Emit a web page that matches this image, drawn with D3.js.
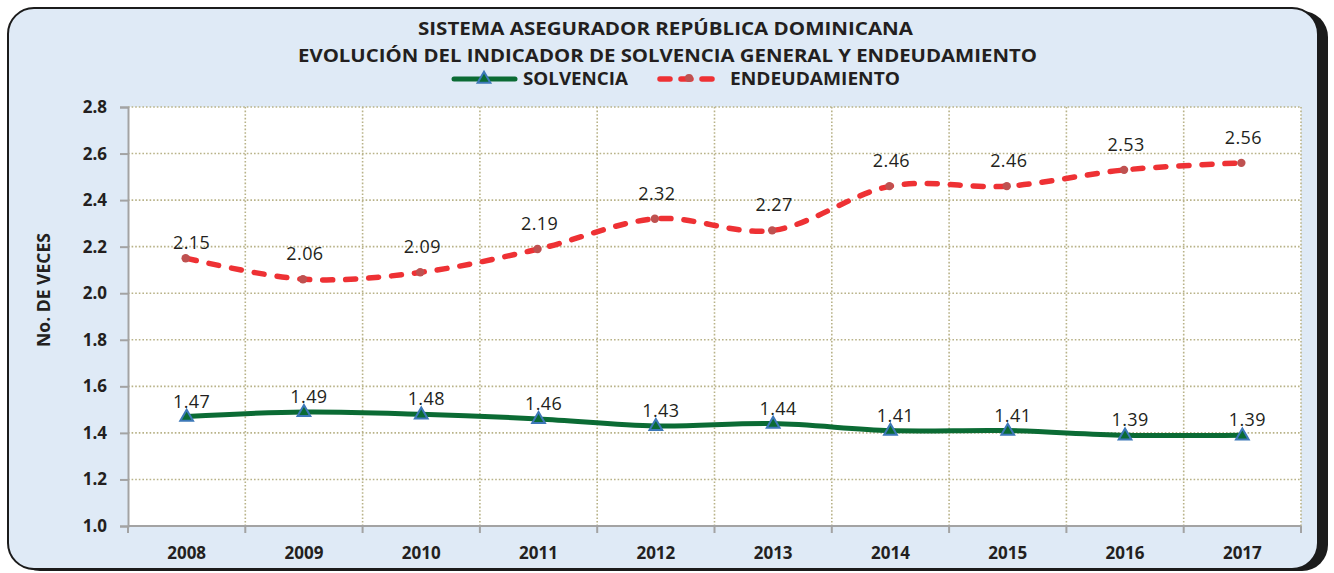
<!DOCTYPE html>
<html>
<head>
<meta charset="utf-8">
<script src="https://cdn.jsdelivr.net/npm/d3@7"></script>
<style>
  html, body { margin: 0; padding: 0; background: #ffffff; }
  svg { display: block; }
  text { font-family: "Open Sans", "Noto Sans", sans-serif; fill: #231f20; }
</style>
</head>
<body>
<script>
// Sistema asegurador: solvencia general y endeudamiento, 2008-2017
const years = ["2008", "2009", "2010", "2011", "2012", "2013", "2014", "2015", "2016", "2017"];
const solvencia = [1.47, 1.49, 1.48, 1.46, 1.43, 1.44, 1.41, 1.41, 1.39, 1.39];
const endeudamiento = [2.15, 2.06, 2.09, 2.19, 2.32, 2.27, 2.46, 2.46, 2.53, 2.56];
const yTicks = [1.0, 1.2, 1.4, 1.6, 1.8, 2.0, 2.2, 2.4, 2.6, 2.8];
const titleLines = ["SISTEMA  ASEGURADOR  REPÚBLICA  DOMINICANA",
                    "EVOLUCIÓN  DEL  INDICADOR  DE  SOLVENCIA  GENERAL  Y  ENDEUDAMIENTO"];
const seriesNames = ["SOLVENCIA", "ENDEUDAMIENTO"];
const yTitle = "No. DE VECES";

const W = 1334, H = 573;
const plot = { left: 128, right: 1301, top: 107, bottom: 526 };

const GREEN = "#0b6b34", TRI_STROKE = "#3d78b8";
const RED = "#ee3134", DOT = "#bf5150";
const GRID = "#b8b288", AXIS = "#a3a3a3";

const svg = d3.select("body").append("svg").attr("width", W).attr("height", H);

// frame with drop shadow
svg.append("rect").attr("x", 14).attr("y", 11).attr("width", 1314).attr("height", 560)
  .attr("rx", 26).attr("fill", "#1b1b1b");
svg.append("rect").attr("x", 8).attr("y", 8).attr("width", 1310).attr("height", 561)
  .attr("rx", 26).attr("fill", "#dfeaf6").attr("stroke", "#1b1b1b").attr("stroke-width", 2);

// plot area
svg.append("rect").attr("x", plot.left).attr("y", plot.top)
  .attr("width", plot.right - plot.left).attr("height", plot.bottom - plot.top)
  .attr("fill", "#ffffff");

const x = d3.scaleBand().domain(years).range([plot.left, plot.right]).paddingInner(0).paddingOuter(0);
const cx = d => x(d) + x.bandwidth() / 2;
const y = d3.scaleLinear().domain([1.0, 2.8]).range([plot.bottom, plot.top]);

// dotted grid
const grid = svg.append("g");
grid.selectAll("line.h").data(yTicks.slice(1)).join("line")
  .attr("x1", plot.left).attr("x2", plot.right)
  .attr("y1", d => y(d)).attr("y2", d => y(d))
  .attr("stroke", GRID).attr("stroke-width", 1.6).attr("stroke-dasharray", "1.6,2");
grid.selectAll("line.v").data(years).join("line")
  .attr("x1", d => x(d) + x.bandwidth()).attr("x2", d => x(d) + x.bandwidth())
  .attr("y1", plot.top).attr("y2", plot.bottom)
  .attr("stroke", GRID).attr("stroke-width", 1.6).attr("stroke-dasharray", "1.6,2");

// y axis
const yAxis = svg.append("g").attr("transform", `translate(${plot.left},0)`)
  .call(d3.axisLeft(y).tickValues(yTicks).tickFormat(d3.format(".1f")).tickSize(8).tickPadding(13));
yAxis.select(".domain").attr("stroke", AXIS).attr("stroke-width", 2);
yAxis.selectAll(".tick line").attr("stroke", AXIS).attr("stroke-width", 2);
yAxis.selectAll(".tick text").style("font-family", "'Open Sans', sans-serif")
  .style("font-size", "17px").style("font-weight", "700").attr("fill", "#231f20");

// x axis: labels centred in each band, ticks at band boundaries
const xAxis = svg.append("g").attr("transform", `translate(0,${plot.bottom})`)
  .call(d3.axisBottom(x).tickSize(0).tickPadding(21));
xAxis.select(".domain").remove();
xAxis.selectAll(".tick text").style("font-family", "'Open Sans', sans-serif")
  .style("font-size", "17px").style("font-weight", "700").attr("fill", "#231f20");
svg.append("line").attr("x1", plot.left).attr("x2", plot.right)
  .attr("y1", plot.bottom).attr("y2", plot.bottom).attr("stroke", AXIS).attr("stroke-width", 2);
svg.append("g").selectAll("line").data([years[0]].concat(years)).join("line")
  .attr("x1", (d, i) => i === 0 ? plot.left : x(d) + x.bandwidth())
  .attr("x2", (d, i) => i === 0 ? plot.left : x(d) + x.bandwidth())
  .attr("y1", plot.bottom).attr("y2", plot.bottom + 7)
  .attr("stroke", AXIS).attr("stroke-width", 2);

// axis title
svg.append("text").attr("transform", "translate(50,290) rotate(-90)")
  .attr("text-anchor", "middle").attr("textLength", 114).attr("lengthAdjust", "spacingAndGlyphs")
  .style("font-size", "18px").style("font-weight", "700")
  .text(yTitle);

// title
svg.append("text").attr("x", 665.5).attr("y", 35).attr("text-anchor", "middle")
  .attr("textLength", 495).attr("lengthAdjust", "spacingAndGlyphs")
  .style("font-size", "18.5px").style("font-weight", "700").text(titleLines[0]);
svg.append("text").attr("x", 667.5).attr("y", 62).attr("text-anchor", "middle")
  .attr("textLength", 739).attr("lengthAdjust", "spacingAndGlyphs")
  .style("font-size", "18.5px").style("font-weight", "700").text(titleLines[1]);

// smoothed lines
const curve = d3.curveCardinal.tension(0);
const lineGen = d3.line().x((d, i) => cx(years[i])).y(d => y(d)).curve(curve);

svg.append("path").datum(endeudamiento).attr("d", lineGen)
  .attr("fill", "none").attr("stroke", RED).attr("stroke-width", 5.5)
  .attr("stroke-linecap", "round").attr("stroke-dasharray", "10,13");
svg.append("path").datum(solvencia).attr("d", lineGen)
  .attr("fill", "none").attr("stroke", GREEN).attr("stroke-width", 5)
  .attr("stroke-linecap", "round");

// markers
const tri = d3.symbol().type(d3.symbolTriangle).size(70);
svg.append("g").selectAll("path").data(solvencia).join("path")
  .attr("d", tri)
  .attr("transform", (d, i) => `translate(${cx(years[i])},${y(d) + 0.5})`)
  .attr("fill", GREEN).attr("stroke", TRI_STROKE).attr("stroke-width", 2);
svg.append("g").selectAll("circle").data(endeudamiento).join("circle")
  .attr("cx", (d, i) => cx(years[i]) - 1).attr("cy", d => y(d))
  .attr("r", 4.2).attr("fill", DOT);

// value labels
const fmt = d3.format(".2f");
svg.append("g").selectAll("text").data(solvencia).join("text")
  .attr("x", (d, i) => cx(years[i]) + 5).attr("y", d => y(d) - 9)
  .attr("text-anchor", "middle").style("font-size", "18px").style("letter-spacing", "0.4px")
  .text(d => fmt(d));
svg.append("g").selectAll("text").data(endeudamiento).join("text")
  .attr("x", (d, i) => cx(years[i]) + (i === 0 ? 5 : 1))
  .attr("y", (d, i) => y(d) - (i === 0 ? 9 : 19))
  .attr("text-anchor", "middle").style("font-size", "18px").style("letter-spacing", "0.4px")
  .text(d => fmt(d));

// legend
const lg = svg.append("g");
lg.append("line").attr("x1", 454).attr("x2", 515).attr("y1", 79).attr("y2", 79)
  .attr("stroke", GREEN).attr("stroke-width", 5).attr("stroke-linecap", "round");
lg.append("path").attr("d", tri).attr("transform", "translate(484,79)")
  .attr("fill", GREEN).attr("stroke", TRI_STROKE).attr("stroke-width", 2);
lg.append("text").attr("x", 523).attr("y", 85).attr("textLength", 105)
  .attr("lengthAdjust", "spacingAndGlyphs")
  .style("font-size", "17.5px").style("font-weight", "700").text(seriesNames[0]);
lg.append("line").attr("x1", 660).attr("x2", 713).attr("y1", 79).attr("y2", 79)
  .attr("stroke", RED).attr("stroke-width", 5.5).attr("stroke-linecap", "round")
  .attr("stroke-dasharray", "10,11");
lg.append("circle").attr("cx", 689).attr("cy", 78).attr("r", 4).attr("fill", DOT);
lg.append("text").attr("x", 730).attr("y", 85).attr("textLength", 170)
  .attr("lengthAdjust", "spacingAndGlyphs")
  .style("font-size", "17.5px").style("font-weight", "700").text(seriesNames[1]);
</script>
</body>
</html>
